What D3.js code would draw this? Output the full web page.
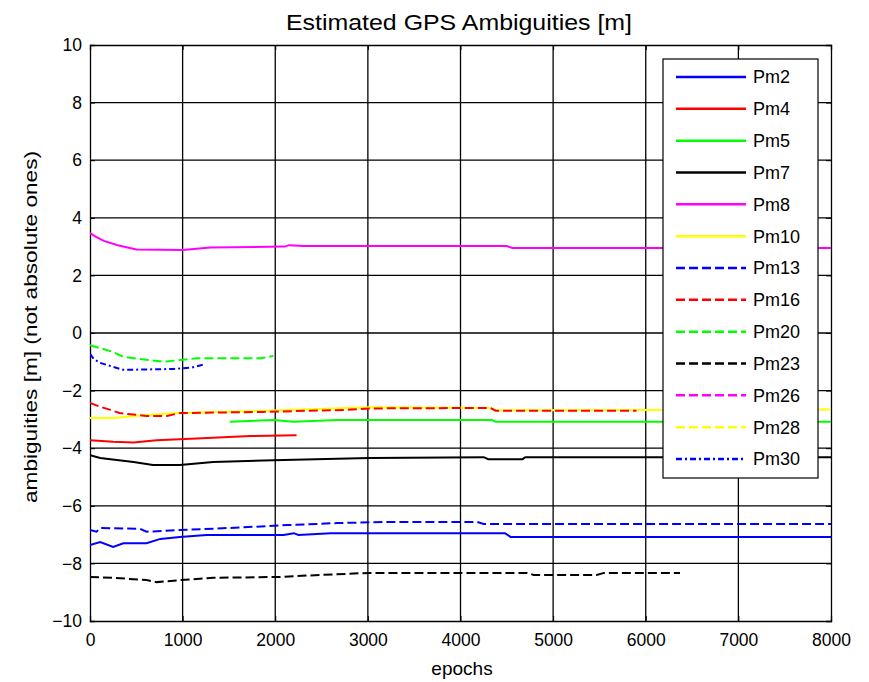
<!DOCTYPE html>
<html>
<head>
<meta charset="utf-8">
<script src="https://cdn.jsdelivr.net/npm/d3@7"></script>
<style>
  html, body { margin: 0; padding: 0; background: #fff; }
  svg { display: block; font-family: "Liberation Sans", Arial, sans-serif; }
</style>
</head>
<body>
<svg id="chart" width="869" height="682"></svg>
<script>
// ---------- data (epoch, ambiguity [m]) ----------
const xTicks = [0, 1000, 2000, 3000, 4000, 5000, 6000, 7000, 8000];
const yTicks = [-10, -8, -6, -4, -2, 0, 2, 4, 6, 8, 10];

const pm2 = [[0,-7.36],[110,-7.26],[250,-7.43],[360,-7.3],[610,-7.3],[760,-7.15],[970,-7.08],[1260,-7.01],[2090,-7.01],[2200,-6.95],[2250,-7.01],[2600,-6.95],[4480,-6.95],[4540,-7.08],[8000,-7.08]];
const pm4 = [[0,-3.72],[250,-3.78],[470,-3.8],[720,-3.72],[1150,-3.66],[1730,-3.58],[2230,-3.55]];
const pm5 = [[1510,-3.08],[1980,-3.02],[2200,-3.08],[2670,-3.02],[4340,-3.02],[4380,-3.08],[8000,-3.08]];
const pm7 = [[0,-4.24],[110,-4.34],[470,-4.48],[680,-4.58],[970,-4.58],[1330,-4.48],[2090,-4.41],[3020,-4.34],[4250,-4.31],[4300,-4.38],[4670,-4.38],[4700,-4.31],[8000,-4.31]];
const pm8 = [[0,3.47],[60,3.35],[150,3.2],[300,3.05],[500,2.9],[1000,2.88],[1300,2.97],[2100,3.0],[2150,3.05],[2300,3.02],[4500,3.02],[4560,2.95],[8000,2.95]];
const pm10 = [[0,-2.95],[250,-2.95],[610,-2.85],[970,-2.78],[1900,-2.7],[3020,-2.58],[4320,-2.6],[4380,-2.68],[8000,-2.66]];
const pm13 = [[0,-6.84],[70,-6.9],[110,-6.77],[540,-6.8],[610,-6.9],[970,-6.84],[1510,-6.77],[2130,-6.67],[2670,-6.6],[3200,-6.56],[4180,-6.56],[4250,-6.63],[8000,-6.63]];
const pm16 = [[0,-2.43],[110,-2.56],[220,-2.67],[320,-2.78],[610,-2.88],[830,-2.88],[970,-2.78],[1870,-2.74],[2340,-2.7],[2770,-2.67],[3020,-2.62],[4320,-2.6],[4380,-2.7],[5900,-2.7]];
const pm20 = [[0,-0.42],[250,-0.66],[360,-0.83],[790,-1.0],[1150,-0.88],[1840,-0.88],[1980,-0.8]];
const pm23 = [[0,-8.47],[250,-8.5],[610,-8.58],[720,-8.65],[970,-8.58],[1330,-8.5],[2050,-8.47],[2480,-8.4],[3020,-8.33],[4720,-8.33],[4790,-8.4],[5470,-8.4],[5550,-8.33],[6370,-8.33]];
const pm26 = [];
const pm28 = [];
const pm30 = [[0,-0.72],[40,-0.9],[110,-1.04],[360,-1.28],[900,-1.25],[1100,-1.2],[1220,-1.1]];

const names  = ["Pm2","Pm4","Pm5","Pm7","Pm8","Pm10","Pm13","Pm16","Pm20","Pm23","Pm26","Pm28","Pm30"];
const values = [pm2, pm4, pm5, pm7, pm8, pm10, pm13, pm16, pm20, pm23, pm26, pm28, pm30];
const colors = ["#0000ff","#ff0000","#00ff00","#000000","#ff00ff","#ffff00","#0000ff","#ff0000","#00ff00","#000000","#ff00ff","#ffff00","#0000ff"];
const dashes = [null,null,null,null,null,null,"9,4","9,4","9,4","9,4","9,4","9,4","6,3,2,3"];

// ---------- layout ----------
const svg = d3.select("#chart");
const L = 90, R = 831, T = 45, B = 621;
const x = d3.scaleLinear().domain([0, 8000]).range([L, R]);
const y = d3.scaleLinear().domain([-10, 10]).range([B, T]);

svg.append("defs").append("clipPath").attr("id", "clip")
  .append("rect").attr("x", L).attr("y", T).attr("width", R - L).attr("height", B - T);

// grid
const grid = svg.append("g");
grid.selectAll("line.gx").data(xTicks.slice(1, -1)).join("line")
  .attr("x1", d => x(d)).attr("x2", d => x(d)).attr("y1", T).attr("y2", B)
  .attr("stroke", "#000").attr("stroke-width", 1.3);
grid.selectAll("line.gy").data(yTicks.slice(1, -1)).join("line")
  .attr("y1", d => y(d)).attr("y2", d => y(d)).attr("x1", L).attr("x2", R)
  .attr("stroke", "#000").attr("stroke-width", 1.3);

// axes
const ax = svg.append("g").attr("transform", `translate(0,${B})`)
  .call(d3.axisBottom(x).tickValues(xTicks).tickSize(-5).tickPadding(13).tickFormat(d3.format("d")));
const ay = svg.append("g").attr("transform", `translate(${L},0)`)
  .call(d3.axisLeft(y).tickValues(yTicks).tickSize(-5).tickPadding(8).tickFormat(d3.format("d")));
const axTop = svg.append("g").attr("transform", `translate(0,${T})`)
  .call(d3.axisTop(x).tickValues(xTicks).tickSize(-5).tickFormat(""));
const ayR = svg.append("g").attr("transform", `translate(${R},0)`)
  .call(d3.axisRight(y).tickValues(yTicks).tickSize(-5).tickFormat(""));
[ax, ay, axTop, ayR].forEach(g => {
  g.select(".domain").attr("stroke", "#000").attr("stroke-width", 1.3);
  g.selectAll(".tick line").attr("stroke", "#000");
  g.selectAll(".tick text").attr("fill", "#000").style("font-size", "17.5px").style("font-family", "'Liberation Sans', Arial, sans-serif");
});

// lines
const line = d3.line().x(d => x(d[0])).y(d => y(d[1]));
const gl = svg.append("g").attr("clip-path", "url(#clip)");
values.forEach((v, i) => {
  if (!v.length) return;
  gl.append("path").datum(v)
    .attr("d", line)
    .attr("fill", "none")
    .attr("stroke", colors[i])
    .attr("stroke-width", 2)
    .attr("stroke-dasharray", dashes[i]);
});

// legend
const lg = svg.append("g");
const lx = 663, ly = 59, lw = 155, lh = 419;
lg.append("rect").attr("x", lx).attr("y", ly).attr("width", lw).attr("height", lh)
  .attr("fill", "#fff").attr("stroke", "#000").attr("stroke-width", 1.2);
const rowY = d3.scaleLinear().domain([0, names.length - 1]).range([77, 459]);
names.forEach((n, i) => {
  const yy = rowY(i);
  lg.append("line").attr("x1", 676).attr("x2", 746).attr("y1", yy).attr("y2", yy)
    .attr("stroke", colors[i]).attr("stroke-width", 2.5)
    .attr("stroke-dasharray", dashes[i]);
  lg.append("text").attr("x", 753).attr("y", yy).attr("dy", "0.36em")
    .style("font-size", "18px").attr("fill", "#000").text(n);
});

// titles
svg.append("text").attr("x", 459).attr("y", 30).attr("text-anchor", "middle")
  .style("font-size", "22px").attr("textLength", 346).attr("lengthAdjust", "spacingAndGlyphs")
  .text("Estimated GPS Ambiguities [m]");
svg.append("text").attr("x", 462).attr("y", 675).attr("text-anchor", "middle")
  .style("font-size", "19px").text("epochs");
svg.append("text").attr("transform", `translate(37,${(T + B) / 2 - 6}) rotate(-90)`)
  .attr("text-anchor", "middle").style("font-size", "19px")
  .attr("textLength", 352).attr("lengthAdjust", "spacingAndGlyphs")
  .text("ambiguities [m] (not absolute ones)");
</script>
</body>
</html>
